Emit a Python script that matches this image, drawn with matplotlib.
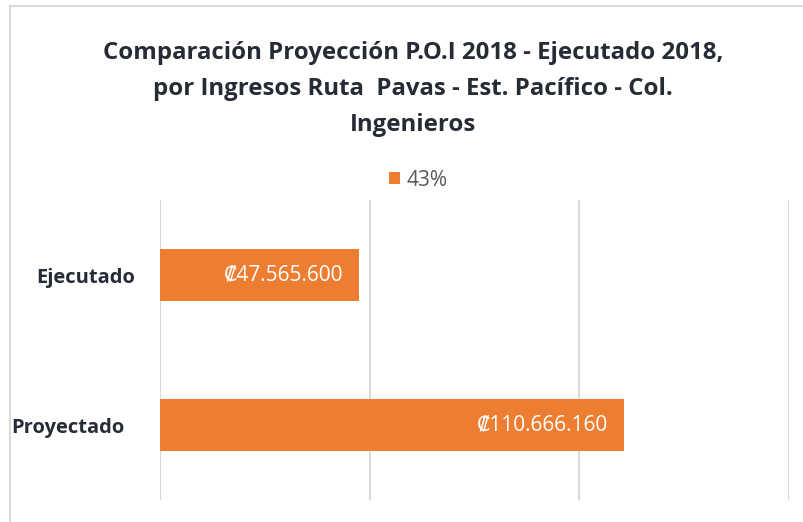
import matplotlib
matplotlib.use("Agg")
import matplotlib.pyplot as plt
from matplotlib.patches import Rectangle
from matplotlib.ticker import MultipleLocator
from matplotlib.transforms import ScaledTranslation

categories = ["Proyectado", "Ejecutado"]
values = [110666160, 47565600]
value_labels = ["₡110.666.160", "₡47.565.600"]
legend_label = "43%"
title = ("Comparación Proyección P.O.I 2018 - Ejecutado 2018,\n"
         "por Ingresos Ruta  Pavas - Est. Pacífico - Col.\n"
         "Ingenieros")

orange = "#ED7D31"
dark = "#262C36"
plt.rcParams["font.family"] = ["Open Sans", "DejaVu Sans"]

W, H = 804, 522
fig = plt.figure(figsize=(W / 100, H / 100), dpi=100)
ax = fig.add_axes([160 / W, 1 - 500 / H, (789 - 160) / W, 300 / H])

bars = ax.barh(range(len(categories)), values, height=0.35, color=orange,
               label=legend_label, zorder=3)
for bar, lab in zip(bars, value_labels):
    ax.annotate(lab, (bar.get_width(), bar.get_y() + bar.get_height() / 2),
                xytext=(-16, 0), textcoords="offset pixels",
                ha="right", va="center", color="white", fontsize=15)

ax.set_xlim(0, 150e6)
ax.set_ylim(-0.5, 1.5)
ax.xaxis.set_major_locator(MultipleLocator(50e6))
ax.grid(axis="x", color="#D9D9D9", linewidth=1.5, zorder=0)
ax.set_xticklabels([])
ax.tick_params(axis="x", length=0)
ax.set_yticks(range(len(categories)))
ax.set_yticklabels(categories, fontsize=14.5, fontweight="bold", color=dark)
ax.tick_params(axis="y", length=0, pad=18)
# the "Proyectado" label sits a little further left in the original
lbl = ax.get_yticklabels()[0]
lbl.set_transform(lbl.get_transform() + ScaledTranslation(-0.1, 0, fig.dpi_scale_trans))
for s in ax.spines.values():
    s.set_visible(False)

fig.text(413 / W, 1 - 89 / H, title, ha="center", va="center", fontsize=17.3,
         fontweight="bold", color=dark, linespacing=1.65)

fig.legend(handles=[bars], labels=[legend_label], loc="center",
           bbox_to_anchor=(418 / W, 1 - 180 / H), frameon=False, fontsize=15,
           handlelength=0.55, handleheight=0.55, handletextpad=0.3,
           labelcolor="#595959")

# chart frame (top and left edges visible)
fig.patches.append(Rectangle((10 / W, -0.1), 1.1, 1 - 6 / H + 0.1,
                             transform=fig.transFigure, fill=False,
                             edgecolor="#D9D9D9", linewidth=1.5))

fig.savefig("out.png", dpi=100)
